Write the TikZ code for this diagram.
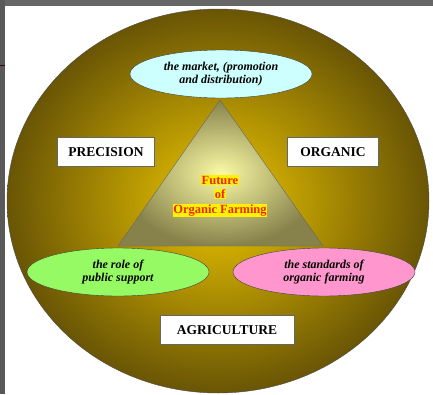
\documentclass[tikz,border=0pt]{standalone}
\usepackage{fontspec}
\setmainfont{Liberation Serif}
\usetikzlibrary{shapes.geometric}

\definecolor{goldin}{RGB}{238,198,0}
\definecolor{goldout}{RGB}{105,85,5}
\definecolor{trin}{RGB}{250,250,165}
\definecolor{trout}{RGB}{135,130,75}
\definecolor{skyfill}{RGB}{205,255,255}
\definecolor{limefill}{RGB}{150,250,100}
\definecolor{pinkfill}{RGB}{255,150,205}
\definecolor{futred}{RGB}{240,40,0}

\tikzset{
  topic/.style={ellipse, draw=black!75, thin, minimum width=182, minimum height=48,
    inner sep=0pt, align=center, font=\fontsize{12}{13}\selectfont\bfseries\itshape},
  kind/.style={rectangle, draw=black!60, fill=white, minimum height=29,
    inner sep=0pt, font=\fontsize{13.5}{15}\selectfont\bfseries}
}

\begin{document}
\begin{tikzpicture}[x=1pt, y=-1pt]
	\useasboundingbox (0,0) rectangle (433,394);
	% screen border
	\fill[black!60] (0,0) rectangle (433,6);
	\fill[black!65] (0,0) rectangle (5,394);
	\fill[black!70!purple] (0,64.5) rectangle (5,66);

	% big disc
	\shade[inner color=goldin, outer color=goldout, draw=black!70]
		(218,201) ellipse [x radius=211, y radius=192];

	% triangle
	\coordinate (apex) at (220,100);
	\coordinate (bl) at (118,246);
	\coordinate (br) at (323,246);
	\shade[inner color=trin, outer color=trout, draw=black!60] (apex) -- (br) -- (bl) -- cycle;

	% ellipses
	\node[topic, fill=skyfill] (market) at (221,74) {the market, (promotion\\and distribution)};
	\node[topic, fill=limefill] (support) at (118,272) {the role of\\public support};
	\node[topic, fill=pinkfill] (standards) at (324,272) {the standards of\\organic farming};

	% boxes
	\node[kind, minimum width=97] (precision) at (106,152) {PRECISION};
	\node[kind, minimum width=91] (organic) at (333,152) {ORGANIC};
	\node[kind, minimum width=134] (agri) at (227,330) {AGRICULTURE};

	% centre
	\node[align=center, text=futred, inner sep=0pt, font=\fontsize{12.5}{14.5}\selectfont\bfseries,
		execute at begin node={\setlength{\fboxsep}{0.6pt}}] (future) at (220,196)
		{\colorbox{yellow}{Future}\\\colorbox{yellow}{of}\\\colorbox{yellow}{Organic Farming}};
\end{tikzpicture}
\end{document}
